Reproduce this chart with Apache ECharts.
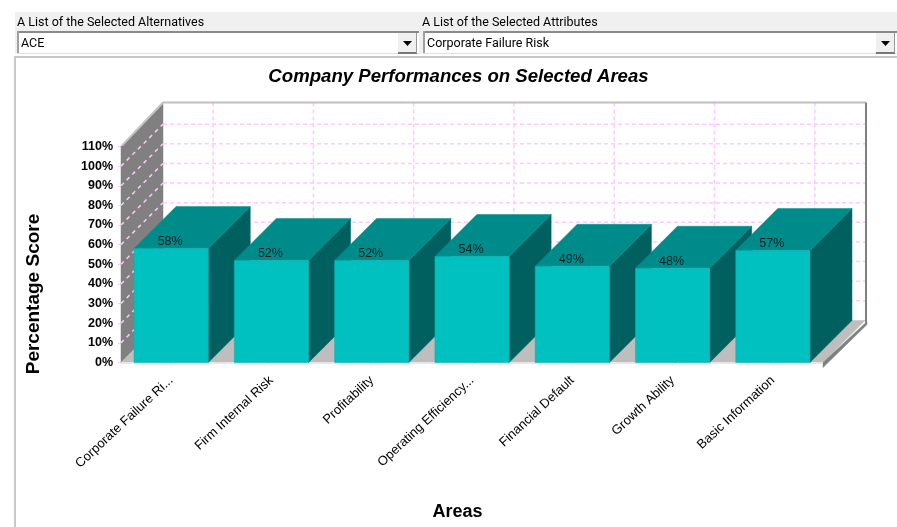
<!DOCTYPE html>
<html><head><meta charset="utf-8">
<style>html,body{margin:0;padding:0;background:#fff}#c{width:897px;height:527px}</style>
<script src="https://cdn.jsdelivr.net/npm/echarts@6/dist/echarts.min.js"></script>
</head><body><div id="c"></div>
<script>
const categories = ['Corporate Failure Ri...','Firm Internal Risk','Profitability','Operating Efficiency...','Financial Default','Growth Ability','Basic Information'];
const scores = [58,52,52,54,49,48,57];
const yTicks = [0,10,20,30,40,50,60,70,80,90,100,110];
const selectedAlternative = 'ACE';
const selectedAttribute = 'Corporate Failure Risk';

const DX = 42, DY = -42, BAR = 0.74;
const PINK = '#ffc8ff';
const font = 'Arial, "Liberation Sans", sans-serif';
const uiFont = 'Roboto, "Open Sans", sans-serif';

function poly(pts, fill, z){ return {type:'polygon', shape:{points:pts}, style:{fill, stroke:fill, lineWidth:0.5}, z2:z||0}; }
function line(a,b,stroke,w,dash){ return {type:'line', shape:{x1:a[0],y1:a[1],x2:b[0],y2:b[1]}, style:{stroke, lineWidth:w, lineDash:dash||null}, silent:true}; }
const back = p => [p[0]+DX, p[1]+DY];

function renderWalls(params, api){
  const lastI = categories.length - 1, half = api.size([1,0])[0]/2;
  const c0 = api.coord([0,0]), cTop = api.coord([0,110]), cR = api.coord([lastI,0]);
  const x0 = c0[0]-half, x1 = cR[0]+half, y0 = c0[1], yT = cTop[1];
  const fl=[x0,y0], fr=[x1,y0], tl=[x0,yT], topBackY = yT+DY-2;
  const ch=[];
  ch.push(poly([[x0+DX,topBackY],[x1+DX,topBackY],[x1+DX,y0+DY],[x0+DX,y0+DY]],'#ffffff'));
  ch.push(poly([fl,tl,[x0+DX,topBackY],back(fl)],'#808080'));
  ch.push(poly([fl,fr,back(fr),back(fl)],'#bebebe'));
  yTicks.forEach(v=>{
    if(v===0||v===110) return;
    const y = api.coord([0,v])[1];
    ch.push(line([x0,y],[x0+DX,y+DY],PINK,1.5,[4,4]));
    ch.push(line([x0+DX,y+DY],[x1+DX,y+DY],PINK,1.5,[4,3]));
  });
  categories.forEach((c,i)=>{
    const x = api.coord([i,0])[0]+DX;
    ch.push(line([x,topBackY],[x,y0+DY],PINK,1.5,[4,3]));
  });
  ch.push(line([x0+1,yT-1],[x0+DX,topBackY],'#c4c4c4',2));
  ch.push(line([x0+DX,topBackY],[x1+DX+1,topBackY],'#c0c0c0',2));
  ch.push(line([x1+DX+1,topBackY],[x1+DX+1,y0+DY+3],'#808080',2));
  ch.push(poly([[x1,y0],[x1+DX+2,y0+DY+1],[x1+DX+2,y0+DY+4],[x1,y0+5]],'#808080'));
  ch.push(line([x0,y0+0.5],[x1,y0+0.5],'#e6e6e6',2));
  return {type:'group', children:ch};
}

function renderBar(params, api){
  const i = api.value(0), v = api.value(1);
  const base = api.coord([i,0]), top = api.coord([i,v]);
  const w = api.size([1,0])[0]*BAR;
  const l = base[0]-w/2, r = base[0]+w/2, t = top[1], b = base[1];
  return {type:'group', children:[
    poly([[r,b],[r,t],[r+DX,t+DY],[r+DX,b+DY]],'#006060'),
    poly([[l,t],[r,t],[r+DX,t+DY],[l+DX,t+DY]],'#008b8b'),
    {type:'rect', shape:{x:l,y:t,width:r-l,height:b-t}, style:{fill:'#00c0c0',stroke:'#00b4b4',lineWidth:0.5}},
    {type:'text', style:{text:v+'%', x:base[0]-1, y:t-7, align:'center', verticalAlign:'middle', font:'12.5px '+font, fill:'#002020'}}
  ]};
}

const T = (text,x,y,f)=>({type:'text', style:{text,x,y,font:f,fill:'#000',verticalAlign:'middle'}, z:20});
const TC = (text,x,y,f)=>({type:'text', style:{text,x,y,font:f,fill:'#000',align:'center',verticalAlign:'middle'}, z:20});
const R = (x,y,w,h,fill)=>({type:'rect', shape:{x,y,width:w,height:h}, style:{fill}, z:10});
function combo(x,w){
  const bx = x+w-21;
  return [
    R(x,31,w,23,'#ffffff'),
    R(x,31,w,2,'#8a8a8a'),
    R(x,31,2,23,'#a0a0a0'),
    R(x,53,w,1,'#e0e0e0'),
    R(bx,33,19,20,'#f0f0f0'),
    R(bx,52,19,2,'#777777'),
    R(bx+18,33,1,20,'#999999'),
    {type:'polygon', shape:{points:[[bx+5,41],[bx+14,41],[bx+9.5,46]]}, style:{fill:'#000'}, z:11}
  ];
}

const option = {
  animation:false,
  backgroundColor:'#ffffff',
  grid:{left:121, right:74, top:146.5, bottom:164.5},
  xAxis:{type:'category', data:categories,
    axisLine:{show:false},
    axisTick:{show:true, alignWithLabel:true, length:3, lineStyle:{color:PINK}},
    splitLine:{show:false},
    axisLabel:{rotate:43, interval:0, margin:16, fontFamily:font, fontSize:13, color:'#000'}},
  yAxis:{type:'value', min:0, max:110, interval:10,
    axisLine:{show:false},
    axisTick:{show:true, length:3, lineStyle:{color:PINK}},
    splitLine:{show:false},
    axisLabel:{formatter:'{value}%', margin:8, fontFamily:font, fontSize:12.5, fontWeight:'bold', color:'#000'}},
  series:[
    {type:'custom', coordinateSystem:'cartesian2d', data:[[0,0]], renderItem:renderWalls, z:1, silent:true},
    {type:'custom', coordinateSystem:'cartesian2d', data:scores.map((v,i)=>[i,v]), renderItem:renderBar, z:2, silent:true, encode:{x:0,y:1}}
  ],
  graphic:[
    R(15,12,882,42,'#f0f0f0'),
    ...combo(17,402),
    ...combo(423,474),
    R(15,56,882,2,'#c8c8c8'),
    R(14,56,2,471,'#c8c8c8'),
    T('A List of the Selected Alternatives',17,22.5,'12.5px '+uiFont),
    T('A List of the Selected Attributes',422,22.5,'12.5px '+uiFont),
    T(selectedAlternative,21,43.5,'12.5px '+uiFont),
    T(selectedAttribute,427,43.5,'12.5px '+uiFont),
    TC('Company Performances on Selected Areas',458.5,76.5,'italic bold 18.6px '+font),
    TC('Areas',457.5,512.5,'bold 18px '+font),
    {type:'text', x:34, y:294, rotation:Math.PI/2, z:20, style:{text:'Percentage Score',x:0,y:0,font:'bold 19px '+font,fill:'#000',align:'center',verticalAlign:'middle'}}
  ]
};
echarts.init(document.getElementById('c'),null,{renderer:'canvas'}).setOption(option);
</script></body></html>
